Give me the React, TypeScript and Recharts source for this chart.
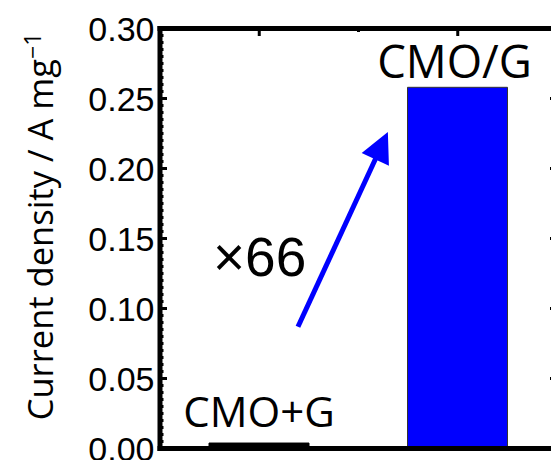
import React from 'react';
import { BarChart, Bar, Cell, XAxis, YAxis, ReferenceLine, LabelList } from 'recharts';

const categories = ['CMO+G', 'CMO/G'];
const currentDensity = [0.0039, 0.258]; // A mg^-1
const barColors = ['#000000', '#0000ff'];
const yTickLabels = ['0.00', '0.05', '0.10', '0.15', '0.20', '0.25', '0.30'];
const foldLabel = '×66';

const data = categories.map((name, i) => ({ name, value: currentDensity[i] }));

// minor ticks every 0.005, majors every 0.05
const yTicks = Array.from({ length: 61 }, (_, i) => i / 200);

// arrow annotation: runs between the two bars, y in data units
const arrowFrom = { x: categories[0], y: 0.087 };
const arrowTo = { x: categories[1], y: 0.226 };
const arrowSpan = [0.195, 0.648]; // fraction of the distance between bar centres

const labelSizes = [42, 45.5];
const labelGaps = [16, 9];
const labelShift = [0, -3];

const tickFont = "'Liberation Sans', Arial";

const LeftTick = (props: any) => {
  const { x, y, payload } = props;
  const k = Math.round(payload.value * 200);
  const major = k % 10 === 0;
  return (
    <g>
      <line x1={x} x2={x + (major ? 7 : 3.5)} y1={y} y2={y} stroke="#000" strokeWidth={3} />
      {major && (
        <text
          x={x - 5.5}
          y={y}
          dy="0.36em"
          textAnchor="end"
          fontFamily={tickFont}
          fontWeight={400}
          fontSize={34}
          fill="#000"
          stroke="none"
        >
          {yTickLabels[k / 10]}
        </text>
      )}
    </g>
  );
};

const RightTick = (props: any) => {
  const { x, y, payload } = props;
  const major = Math.round(payload.value * 200) % 10 === 0;
  return <line x1={x} x2={x - (major ? 7 : 3.5)} y1={y} y2={y} stroke="#000" strokeWidth={3} />;
};

const TopTick = (props: any) => {
  const { x, y, index, width, visibleTicksCount } = props;
  const half = width / (2 * (visibleTicksCount || categories.length));
  return (
    <g>
      <line x1={x} x2={x} y1={y} y2={y + 7.5} stroke="#000" strokeWidth={3} />
      {index < categories.length - 1 && (
        <line x1={x + half} x2={x + half} y1={y} y2={y + 3.5} stroke="#000" strokeWidth={3} />
      )}
    </g>
  );
};

const BarName = (props: any) => {
  const { x, y, width, index, value } = props;
  return (
    <text
      x={x + width / 2 + labelShift[index]}
      y={y - labelGaps[index]}
      textAnchor="middle"
      fontFamily="Open Sans"
      fontSize={labelSizes[index]}
      fill="#000"
    >
      {value}
    </text>
  );
};

const Arrow = (props: any) => {
  const { x1, y1, x2, y2 } = props;
  const ax = x1 + (x2 - x1) * arrowSpan[0];
  const tx = x1 + (x2 - x1) * arrowSpan[1];
  const dx = tx - ax;
  const dy = y2 - y1;
  const len = Math.hypot(dx, dy);
  const ux = dx / len;
  const uy = dy / len;
  const head = 30;
  const hw = 15;
  const bx = tx - ux * head;
  const by = y2 - uy * head;
  const pts = `${tx},${y2} ${bx - uy * hw},${by + ux * hw} ${bx + uy * hw},${by - ux * hw}`;
  return (
    <g>
      <line x1={ax} y1={y1} x2={bx + ux * 2} y2={by + uy * 2} stroke="#0000ff" strokeWidth={5} />
      <polygon points={pts} fill="#0000ff" />
      <text x={ax - 85} y={y1 - 51} fontFamily={tickFont} fontWeight={400} fontSize={55} fill="#000" stroke="none">
        {foldLabel}
      </text>
    </g>
  );
};

const YTitle = (props: any) => {
  const vb = props.viewBox || { x: 0, y: 28.5, width: 160, height: 420 };
  const x = vb.x + 53;
  const y = vb.y + vb.height / 2 - 12;
  return (
    <text
      x={x}
      y={y}
      transform={`rotate(-90 ${x} ${y})`}
      textAnchor="middle"
      fontFamily="Open Sans"
      fontSize={34.5}
      fill="#000"
    >
      Current density / A mg
      <tspan fontSize={23} dy={-12}>−1</tspan>
    </text>
  );
};

export default function App() {
  const axisLine = { stroke: '#000', strokeWidth: 5, strokeLinecap: 'square' as const };
  return (
    <div style={{ position: 'absolute', left: 0, top: 0, width: 551, height: 460, overflow: 'hidden', background: '#fff' }}>
      <BarChart width={570} height={460} data={data} margin={{ top: 27.5, right: 12, bottom: 10.5, left: 0 }}>
        <XAxis xAxisId="cat" dataKey="name" tick={false} tickLine={false} height={1} axisLine={axisLine} />
        <XAxis
          xAxisId="top"
          orientation="top"
          dataKey="name"
          interval={0}
          tickSize={0}
          tickMargin={0}
          tickLine={false}
          tick={TopTick}
          height={1}
          axisLine={axisLine}
        />
        <YAxis
          yAxisId="left"
          domain={[0, 0.3]}
          ticks={yTicks}
          interval={0}
          tickSize={0}
          tickMargin={0}
          tickLine={false}
          tick={LeftTick}
          width={160}
          axisLine={axisLine}
          label={{ content: YTitle }}
        />
        <YAxis
          yAxisId="right"
          orientation="right"
          domain={[0, 0.3]}
          ticks={yTicks}
          interval={0}
          tickSize={0}
          tickMargin={0}
          tickLine={false}
          tick={RightTick}
          width={1}
          axisLine={axisLine}
        />
        {/* invisible twin so the top / right frame axes get a domain */}
        <Bar xAxisId="top" yAxisId="right" dataKey="value" barSize={100} fill="none" stroke="none" isAnimationActive={false} />
        <Bar xAxisId="cat" yAxisId="left" dataKey="value" barSize={100} isAnimationActive={false}>
          {data.map((d, i) => (
            <Cell key={d.name} fill={barColors[i]} stroke={i === 1 ? '#333' : barColors[i]} strokeWidth={1} />
          ))}
          <LabelList dataKey="name" content={BarName} />
        </Bar>
        <ReferenceLine
          xAxisId="cat"
          yAxisId="left"
          segment={[arrowFrom, arrowTo]}
          shape={Arrow}
          ifOverflow="visible"
        />
      </BarChart>
    </div>
  );
}
